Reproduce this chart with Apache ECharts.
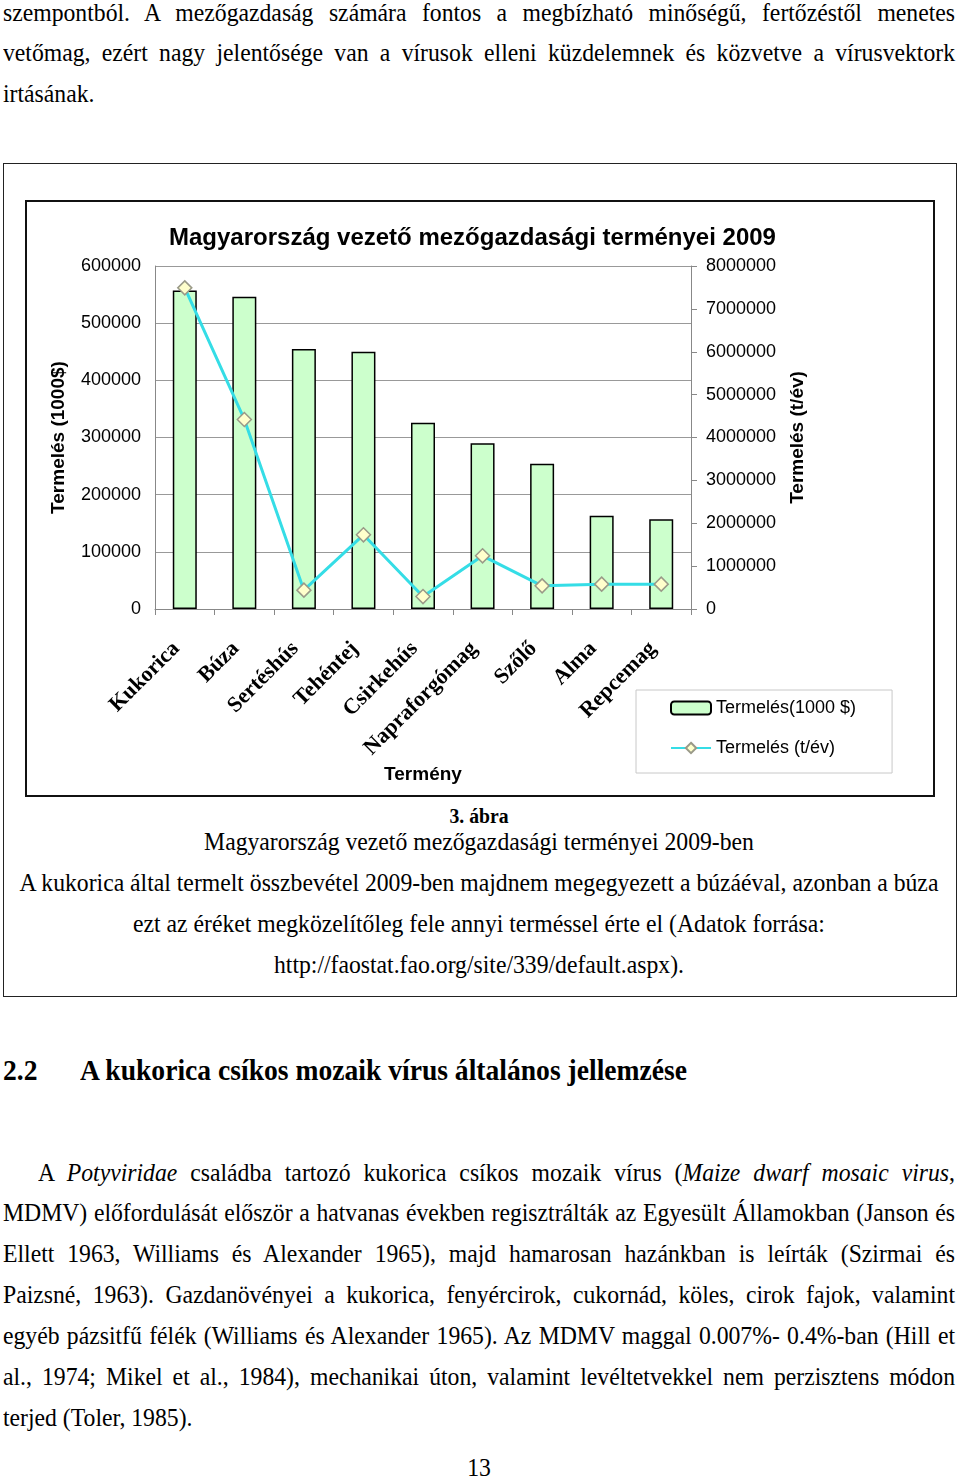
<!DOCTYPE html>
<html lang="hu">
<head>
<meta charset="UTF-8">
<title>Magyarország vezető mezőgazdasági terményei 2009</title>
<style>
    body {
        margin: 0;
        width: 960px;
        height: 1476px;
        position: relative;
        overflow: hidden;
        background: #fff;
        color: #000;
        font-family: 'Liberation Serif', 'Times New Roman', serif;
    }
    .t {
        position: absolute;
        white-space: nowrap;
        font-size: 23.7px;
        line-height: 40px;
        height: 40px;
        transform: scaleY(1.088);
    }
    .j { text-align: justify; text-align-last: justify; }
    .c { left: 0; width: 958px; text-align: center; }
    .box1 {
        position: absolute;
        left: 3px; top: 163px;
        width: 954px; height: 834px;
        box-sizing: border-box;
        border: 1.5px solid #222;
    }
    .box2 {
        position: absolute;
        left: 25px; top: 200px;
        width: 910px; height: 597px;
        box-sizing: border-box;
        border: 2px solid #111;
    }
    #chart {
        position: absolute;
        left: 0; top: 0;
        width: 960px; height: 1000px;
    }
</style>
</head>
<body>
    <div class="t j" style="left:3px;width:952px;top:-8px">szempontból. A mezőgazdaság számára fontos a megbízható minőségű, fertőzéstől menetes</div>
    <div class="t j" style="left:3px;width:952px;top:32px">vetőmag, ezért nagy jelentősége van a vírusok elleni küzdelemnek és közvetve a vírusvektork</div>
    <div class="t" style="left:3px;top:73px">irtásának.</div>

    <div class="box1"></div>
    <div class="box2"></div>

    <div class="t c" style="top:795px;font-size:19.7px;font-weight:bold">3. ábra</div>
    <div class="t c" style="top:821px">Magyarország vezető mezőgazdasági terményei 2009-ben</div>
    <div class="t c" style="top:862px">A kukorica által termelt összbevétel 2009-ben majdnem megegyezett a búzáéval, azonban a búza</div>
    <div class="t c" style="top:903px">ezt az éréket megközelítőleg fele annyi terméssel érte el (Adatok forrása:</div>
    <div class="t c" style="top:944px">http://faostat.fao.org/site/339/default.aspx).</div>

    <div class="t" style="left:3px;top:1050px;font-size:27.6px;font-weight:bold">2.2</div>
    <div class="t" style="left:80px;top:1050px;font-size:27.6px;font-weight:bold">A kukorica csíkos mozaik vírus általános jellemzése</div>

    <div class="t j" style="left:38px;width:917px;top:1152px">A <i>Potyviridae</i> családba tartozó kukorica csíkos mozaik vírus (<i>Maize dwarf mosaic virus</i>,</div>
    <div class="t j" style="left:3px;width:952px;top:1192px">MDMV) előfordulását először a hatvanas években regisztrálták az Egyesült Államokban (Janson és</div>
    <div class="t j" style="left:3px;width:952px;top:1233px">Ellett 1963, Williams és Alexander 1965), majd hamarosan hazánkban is leírták (Szirmai és</div>
    <div class="t j" style="left:3px;width:952px;top:1274px">Paizsné, 1963). Gazdanövényei a kukorica, fenyércirok, cukornád, köles, cirok fajok, valamint</div>
    <div class="t j" style="left:3px;width:952px;top:1315px">egyéb pázsitfű félék (Williams és Alexander 1965). Az MDMV maggal 0.007%- 0.4%-ban (Hill et</div>
    <div class="t j" style="left:3px;width:952px;top:1356px">al., 1974; Mikel et al., 1984), mechanikai úton, valamint levéltetvekkel nem perzisztens módon</div>
    <div class="t" style="left:3px;top:1397px">terjed (Toler, 1985).</div>

    <div class="t c" style="top:1447px">13</div>

    <div id="chart"></div>

    <script src="https://cdn.jsdelivr.net/npm/echarts@6/dist/echarts.min.js"></script>
    <script>
        // adatok
        var crops = ['Kukorica', 'Búza', 'Sertéshús', 'Tehéntej', 'Csirkehús', 'Napraforgómag', 'Szőlő', 'Alma', 'Repcemag'];
        var valueK = [557000, 546000, 455000, 450000, 326000, 290000, 254000, 163000, 157000];
        var tonnes = [7490000, 4420000, 440000, 1730000, 290000, 1240000, 540000, 580000, 580000];
        var leftTicks = { min: 0, max: 600000, step: 100000 };
        var rightTicks = { min: 0, max: 8000000, step: 1000000 };

        var sans = "'Liberation Sans', Arial, sans-serif";
        var serif = "'Liberation Serif', 'Times New Roman', serif";

        function plain(v) {
            return String(v);
        }

        var chart = echarts.init(document.getElementById('chart'));

        var option = {
            animation: false,
            title: {
                text: 'Magyarország vezető mezőgazdasági terményei 2009',
                left: 169,
                top: 226,
                padding: 0,
                textStyle: { fontFamily: sans, fontSize: 24, fontWeight: 'bold', color: '#000' }
            },
            legend: {
                orient: 'vertical',
                left: 636,
                top: 690,
                padding: [9, 36, 16, 34],
                itemGap: 22,
                itemWidth: 40,
                itemHeight: 13,
                borderColor: '#c8c8c8',
                borderWidth: 1,
                textStyle: { fontFamily: sans, fontSize: 18, color: '#000' },
                data: ['Termelés(1000 $)', 'Termelés (t/év)']
            },
            grid: { left: 155, top: 266, width: 536, height: 343 },
            xAxis: {
                type: 'category',
                data: crops,
                axisLine: { lineStyle: { color: '#888' } },
                axisTick: { show: true, length: 6, lineStyle: { color: '#888' } },
                axisLabel: {
                    interval: 0, rotate: 45, margin: 28,
                    padding: [0, 12, 0, 0],
                    fontFamily: serif, fontWeight: 'bold', fontSize: 22, color: '#000'
                },
                name: 'Termény',
                nameLocation: 'middle',
                nameGap: 156,
                nameTextStyle: { fontFamily: sans, fontWeight: 'bold', fontSize: 19, color: '#000' }
            },
            yAxis: [
                {
                    type: 'value',
                    position: 'left',
                    min: leftTicks.min, max: leftTicks.max, interval: leftTicks.step,
                    axisLine: { show: true, lineStyle: { color: '#888' } },
                    axisTick: { show: false },
                    splitLine: { lineStyle: { color: '#999' } },
                    axisLabel: { margin: 14, fontFamily: sans, fontSize: 18, color: '#000', formatter: plain },
                    name: 'Termelés (1000$)',
                    nameLocation: 'middle',
                    nameRotate: 90,
                    nameGap: 87,
                    nameTextStyle: { fontFamily: sans, fontWeight: 'bold', fontSize: 19, color: '#000' }
                },
                {
                    type: 'value',
                    position: 'right',
                    min: rightTicks.min, max: rightTicks.max, interval: rightTicks.step,
                    axisLine: { show: true, lineStyle: { color: '#888' } },
                    axisTick: { show: true, length: 6, lineStyle: { color: '#888' } },
                    splitLine: { show: false },
                    axisLabel: { margin: 15, fontFamily: sans, fontSize: 18, color: '#000', formatter: plain },
                    name: 'Termelés (t/év)',
                    nameLocation: 'middle',
                    nameRotate: 90,
                    nameGap: 97,
                    nameTextStyle: { fontFamily: sans, fontWeight: 'bold', fontSize: 19, color: '#000' }
                }
            ],
            series: [
                {
                    name: 'Termelés(1000 $)',
                    type: 'bar',
                    yAxisIndex: 0,
                    barWidth: 24,
                    data: valueK,
                    itemStyle: { color: '#ccffcc', borderColor: '#000', borderWidth: 1.5 }
                },
                {
                    name: 'Termelés (t/év)',
                    type: 'line',
                    yAxisIndex: 1,
                    data: tonnes,
                    symbol: 'diamond',
                    symbolSize: 14,
                    lineStyle: { color: '#35dde6', width: 3 },
                    itemStyle: { color: '#ffffcc', borderColor: '#9a9a88', borderWidth: 1.5 }
                }
            ]
        };
        chart.setOption(option);
    </script>
</body>
</html>
